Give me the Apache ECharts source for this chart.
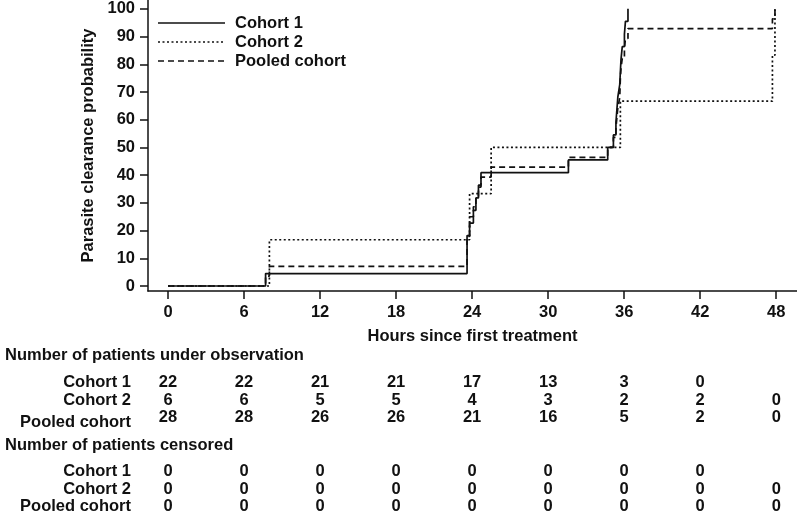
<!DOCTYPE html>
<html>
<head>
<meta charset="utf-8">
<script src="https://cdn.jsdelivr.net/npm/echarts@6/dist/echarts.min.js"></script>
<style>
  html, body { margin: 0; padding: 0; background: #fff; }
  #chart { width: 797px; height: 515px; }
</style>
</head>
<body>
<div id="chart"></div>
<script>
// ---------- data ----------
const seriesNames = ['Cohort 1', 'Cohort 2', 'Pooled cohort'];

// Cohort 1 (solid): time of each step (hours) and cumulative clearance (%)
const hours1 = [0, 7.7, 23.6, 23.8, 24.1, 24.3, 24.5, 24.7, 31.6, 34.7, 35.15, 35.35, 35.5, 35.65, 35.7, 35.75, 35.85, 36.02, 36.1, 36.3];
const clear1 = [0, 4.5, 18.2, 22.7, 27.3, 31.8, 36.4, 40.9, 45.5, 50.0, 54.5, 59.1, 68.2, 72.7, 77.3, 81.8, 86.4, 90.9, 95.5, 100];

// Cohort 2 (dotted)
const hours2 = [0, 8.0, 23.8, 25.5, 35.7, 47.7, 47.9];
const clear2 = [0, 16.7, 33.3, 50.0, 66.7, 83.3, 100];

// Pooled cohort (dashed)
const hoursP = [0, 7.7, 8.0, 23.6, 23.8, 24.1, 24.3, 24.5, 24.7, 25.5, 31.6, 34.7, 35.15, 35.35, 35.5, 35.65, 35.7, 35.75, 35.85, 36.02, 36.1, 36.3, 47.7, 47.9];
const clearP = [0, 3.6, 7.1, 17.9, 25.0, 28.6, 32.1, 35.7, 39.3, 42.9, 46.4, 50.0, 53.6, 57.1, 64.3, 67.9, 75.0, 78.6, 82.1, 85.7, 89.3, 92.9, 96.4, 100];

const xTicks = [0, 6, 12, 18, 24, 30, 36, 42, 48];
const yTicks = [0, 10, 20, 30, 40, 50, 60, 70, 80, 90, 100];

const tableTimes = [0, 6, 12, 18, 24, 30, 36, 42, 48];
const atRisk1 = [22, 22, 21, 21, 17, 13, 3, 0, null];
const atRisk2 = [6, 6, 5, 5, 4, 3, 2, 2, 0];
const atRiskP = [28, 28, 26, 26, 21, 16, 5, 2, 0];
const censored1 = [0, 0, 0, 0, 0, 0, 0, 0, null];
const censored2 = [0, 0, 0, 0, 0, 0, 0, 0, 0];
const censoredP = [0, 0, 0, 0, 0, 0, 0, 0, 0];

const xAxisTitle = 'Hours since first treatment';
const yAxisTitle = 'Parasite clearance probability';
const header1 = 'Number of patients under observation';
const header2 = 'Number of patients censored';

// ---------- chart ----------
const FONT = '"Liberation Sans", Arial, sans-serif';
const FS = 16.5;
const INK = '#111';
const pair = (xs, ys) => xs.map((x, i) => [x, ys[i]]);

const chart = echarts.init(document.getElementById('chart'), null, { renderer: 'canvas' });

const lineTypes = ['solid', [2, 2.5], [6, 4]];
const datasets = [pair(hours1, clear1), pair(hours2, clear2), pair(hoursP, clearP)];

chart.setOption({
  animation: false,
  backgroundColor: '#fff',
  grid: { left: 148, right: 0, top: 0, bottom: 224, containLabel: false },
  xAxis: {
    type: 'value',
    min: -1.58,
    max: 49.64,
    name: xAxisTitle,
    nameLocation: 'middle',
    nameGap: 37,
    nameTextStyle: { fontFamily: FONT, fontWeight: 'bold', fontSize: FS, color: INK },
    axisLine: { show: true, onZero: false, lineStyle: { color: INK, width: 1.5 } },
    axisTick: { show: true, length: 8, customValues: xTicks, lineStyle: { color: INK, width: 1.5 } },
    axisLabel: { customValues: xTicks, fontFamily: FONT, fontWeight: 'bold', fontSize: FS, color: INK, margin: 13 },
    splitLine: { show: false }
  },
  yAxis: {
    type: 'value',
    min: -1.8,
    max: 103.2,
    name: yAxisTitle,
    nameLocation: 'middle',
    nameRotate: 90,
    nameGap: 42,
    nameTextStyle: { fontFamily: FONT, fontWeight: 'bold', fontSize: FS, color: INK },
    axisLine: { show: true, onZero: false, lineStyle: { color: INK, width: 1.5 } },
    axisTick: { show: true, length: 8, customValues: yTicks, lineStyle: { color: INK, width: 1.5 } },
    axisLabel: { customValues: yTicks, fontFamily: FONT, fontWeight: 'bold', fontSize: FS, color: INK, margin: 13 },
    splitLine: { show: false }
  },
  series: seriesNames.map((name, i) => ({
    name: name,
    type: 'line',
    step: 'end',
    data: datasets[i],
    showSymbol: false,
    symbol: 'none',
    color: INK,
    lineStyle: { color: INK, width: 1.7, type: lineTypes[i] },
    z: 3 - i
  }))
});

// ---------- legend + number-at-risk table (text placed under the x ticks) ----------
const colX = tableTimes.map(t => chart.convertToPixel({ xAxisIndex: 0 }, t));
const g = [];
const txt = (text, x, y, align) => ({
  type: 'text', x: x, y: y, silent: true,
  style: { text: String(text), fill: INK, font: 'bold ' + FS + 'px ' + FONT, align: align || 'center', verticalAlign: 'middle' }
});

// legend
const legendDash = [null, [2, 2.5], [6, 4]];
seriesNames.forEach((name, i) => {
  const y = 23 + i * 19;
  g.push({
    type: 'line', silent: true,
    shape: { x1: 158, y1: y, x2: 225, y2: y },
    style: { stroke: INK, lineWidth: 1.7, lineDash: legendDash[i] }
  });
  g.push(txt(name, 235, y, 'left'));
});

g.push(txt(header1, 5, 355, 'left'));
g.push(txt(header2, 5, 445, 'left'));
const rows = [
  { label: seriesNames[0], vals: atRisk1, y: 382, ly: 382 },
  { label: seriesNames[1], vals: atRisk2, y: 400, ly: 400 },
  { label: seriesNames[2], vals: atRiskP, y: 417, ly: 422 },
  { label: seriesNames[0], vals: censored1, y: 471, ly: 471 },
  { label: seriesNames[1], vals: censored2, y: 489, ly: 489 },
  { label: seriesNames[2], vals: censoredP, y: 506, ly: 506 }
];
rows.forEach(r => {
  g.push(txt(r.label, 131, r.ly, 'right'));
  r.vals.forEach((v, i) => { if (v !== null) g.push(txt(v, colX[i], r.y, 'center')); });
});
chart.setOption({ graphic: g });
</script>
</body>
</html>
